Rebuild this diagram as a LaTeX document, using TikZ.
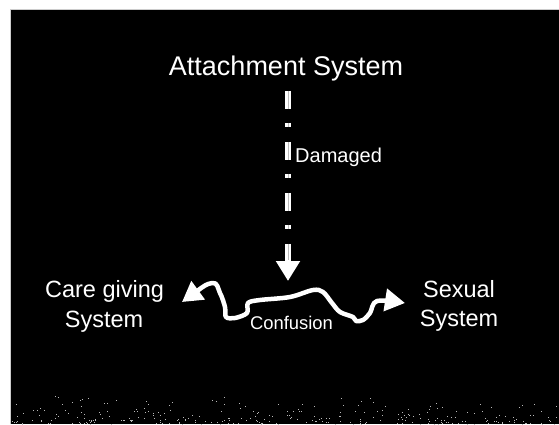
\documentclass[tikz,border=0pt]{standalone}
\usepackage{fontspec}
\setmainfont{Liberation Sans}
\usetikzlibrary{arrows.meta}
\begin{document}
\begin{tikzpicture}[x=1pt,y=-1pt,
  lbl/.style={text=white, inner sep=0pt},
  bigtxt/.style={lbl, font=\fontsize{27}{32}\selectfont},
  midtxt/.style={lbl, font=\fontsize{23.5}{28}\selectfont},
  smalltxt/.style={lbl, font=\fontsize{20}{24}\selectfont},
  tinytxt/.style={lbl, font=\fontsize{18.4}{22}\selectfont},
  linkdash/.style={dash pattern=on 18pt off 14pt on 4pt off 15pt},
  damagedlink/.style={white, line width=6pt, linkdash,
    -{Triangle[width=23pt,length=20pt]}},
  linkstripe/.style={gray!55, line width=1pt, linkdash},
  wave/.style={white, line width=4.5pt, line join=round,
    {Triangle[width=22pt,length=20pt]}-{Triangle[width=22pt,length=20pt]}},
  grain/.style={fill=gray!55}
]
\useasboundingbox (0,0) rectangle (559,424);
% slide background
\fill[white] (0,0) rectangle (559,424);
\fill[black] (10,9) rectangle (559,424);
\draw[gray!40, line width=0.6pt] (10,424) -- (10,9) -- (559,9);

% film grain along the lower edge of the slide
\pgfmathsetseed{7}
\foreach \i in {1,...,300}{
  \pgfmathsetmacro{\gx}{12+545*rnd}
  \pgfmathsetmacro{\gy}{424-32*rnd*rnd}
  \fill[grain] (\gx,\gy) rectangle ++(0.8,0.8);
}

% labels
\node[bigtxt, anchor=base] (attach) at (286,75) {Attachment System};
\node[smalltxt, anchor=base west] (damaged) at (295,162) {Damaged};
\node[midtxt, anchor=base] (careA) at (104.5,297) {Care giving};
\node[midtxt, anchor=base] (careB) at (104,327) {System};
\node[midtxt, anchor=base] (sexA) at (459,297) {Sexual};
\node[midtxt, anchor=base] (sexB) at (459,326) {System};
\node[tinytxt, anchor=base] (confusion) at (291.5,329) {Confusion};

% damaged link from the attachment system down to the tangled line
\coordinate (hit) at (288,281);
\draw[damagedlink, shorten <=10pt] (attach.south -| hit) -- (hit);
\draw[linkstripe, shorten <=10pt, shorten >=21pt] (attach.south -| hit) -- (hit);

% tangled two-way line between care giving and sexual systems
\coordinate (ltip) at (182,302);
\coordinate (rtip) at (405,303);
\draw[wave] plot[smooth, tension=0.55] coordinates {
  (ltip) (212,283) (220,293) (225,307) (226,317) (235,318) (247,313)
  (248,303) (260,300) (290,297) (313,290) (323,292) (332,303) (340,312)
  (353,317) (356,321) (363,320) (370,313) (377,301) (rtip)};
\end{tikzpicture}
\end{document}
